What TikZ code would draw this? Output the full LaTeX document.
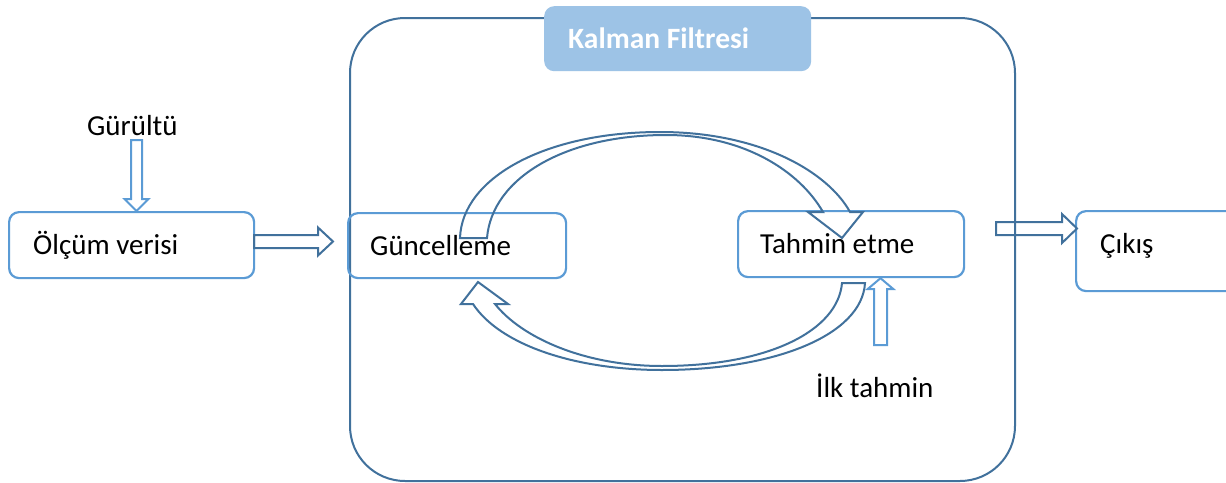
\documentclass[tikz,border=0pt]{standalone}
\usepackage{fontspec}
\setmainfont{Carlito}
\usetikzlibrary{calc}
\definecolor{dkblue}{HTML}{41719C}
\definecolor{ltblue}{HTML}{5B9BD5}
\definecolor{ttlfill}{HTML}{9DC3E6}
\newcommand{\hollowarrow}[6]{%
  % #1 style, #2 start, #3 tip, #4 shaft half width, #5 head half width, #6 head length
  \coordinate (ha-h) at ($(#3)!#6pt!(#2)$);
  \draw[#1] ($(#2)!#4pt!90:(#3)$) -- ($(ha-h)!#4pt!-90:(#2)$) -- ($(ha-h)!#5pt!-90:(#2)$)
    -- (#3) -- ($(ha-h)!#5pt!90:(#2)$) -- ($(ha-h)!#4pt!90:(#2)$) -- ($(#2)!#4pt!-90:(#3)$) -- cycle;
}
\begin{document}
\begin{tikzpicture}[x=1pt,y=-1pt,
  txt/.style={font=\fontsize{29}{34}\selectfont, inner sep=0pt, text=black},
  ttltxt/.style={font=\fontsize{29.5}{35}\selectfont\bfseries, inner sep=0pt, text=white},
  box/.style={draw=ltblue, line width=2.2pt, rounded corners=10pt, inner sep=0pt},
  bigbox/.style={draw=dkblue, line width=2pt, rounded corners=55pt, inner sep=0pt},
  ttlbox/.style={fill=ttlfill, draw=none, rounded corners=10pt, inner sep=0pt},
  darrow/.style={draw=dkblue, line width=2pt, line join=miter},
  larrow/.style={draw=ltblue, line width=2pt, line join=miter},
  curvearrow/.style={draw=dkblue, line width=2pt, line join=miter}]
\useasboundingbox (0,0) rectangle (1226,482);
\fill[white] (0,0) rectangle (1226,482);

% Kalman filter frame and title
\node[bigbox, minimum width=665pt, minimum height=463pt, anchor=north west] (kf) at (349,17) {};
\node[ttlbox, minimum width=267pt, minimum height=65pt, anchor=north west] (ttl) at (544,6) {};
\node[ttltxt, anchor=base west] (ttltxt) at (568,48) {Kalman Filtresi};

% boxes
\node[box, minimum width=245pt, minimum height=66pt, anchor=north west] (olcum) at (8,211) {};
\node[txt, anchor=base west] (olcumtxt) at (33,254) {Ölçüm verisi};
\node[box, minimum width=218pt, minimum height=65pt, anchor=north west] (gunc) at (347,212) {};
\node[txt, anchor=base west] (gunctxt) at (370,255) {Güncelleme};
\node[box, minimum width=226pt, minimum height=66pt, anchor=north west] (tahmin) at (737,210) {};
\node[txt, anchor=base west] (tahmintxt) at (760,253) {Tahmin etme};
\node[box, minimum width=175pt, minimum height=80pt, anchor=north west] (cikis) at (1075,210) {};
\node[txt, anchor=base west] (cikistxt) at (1100,253) {Çıkış};

\node[txt, anchor=base west] (gurultu) at (87,135) {Gürültü};
\node[txt, anchor=base west] (ilk) at (816,397) {İlk tahmin};

% straight hollow arrows
\coordinate (g1) at (136.5,140);
\coordinate (g2) at (g1 |- olcum.north);
\hollowarrow{larrow}{g1}{g2}{5.5}{12}{12}
\coordinate (m1) at (254,241.5);
\coordinate (m2) at (333,241.5);
\hollowarrow{darrow}{m1}{m2}{6.5}{14}{15}
\coordinate (c1) at (996,228.5);
\coordinate (c2) at (1077,228.5);
\hollowarrow{darrow}{c1}{c2}{6.5}{14.5}{15}
\coordinate (i1) at (880.5,345);
\coordinate (i2) at (i1 |- tahmin.south);
\hollowarrow{larrow}{i1}{i2}{6.5}{13}{11}

% curved hollow arrow: Guncelleme -> Tahmin etme (upper)
\draw[curvearrow] (460,238) .. controls (462,178) and (545,132) .. (660,132)
  .. controls (760,132) and (828,172) .. (850,212)
  -- (863,212) -- (842,238) -- (808,212) -- (823,212)
  .. controls (800,172) and (745,135) .. (666,135)
  .. controls (565,135) and (492,178) .. (487,238) -- cycle;

% curved hollow arrow: Tahmin etme -> Guncelleme (lower)
\draw[curvearrow] (842,283) -- (865,283)
  .. controls (862,335) and (775,370) .. (662,370)
  .. controls (575,370) and (500,345) .. (473,304)
  -- (461,304) -- (478,282) -- (508,304) -- (495,304)
  .. controls (522,338) and (585,366) .. (662,366)
  .. controls (770,366) and (838,330) .. (842,283) -- cycle;
\end{tikzpicture}
\end{document}
